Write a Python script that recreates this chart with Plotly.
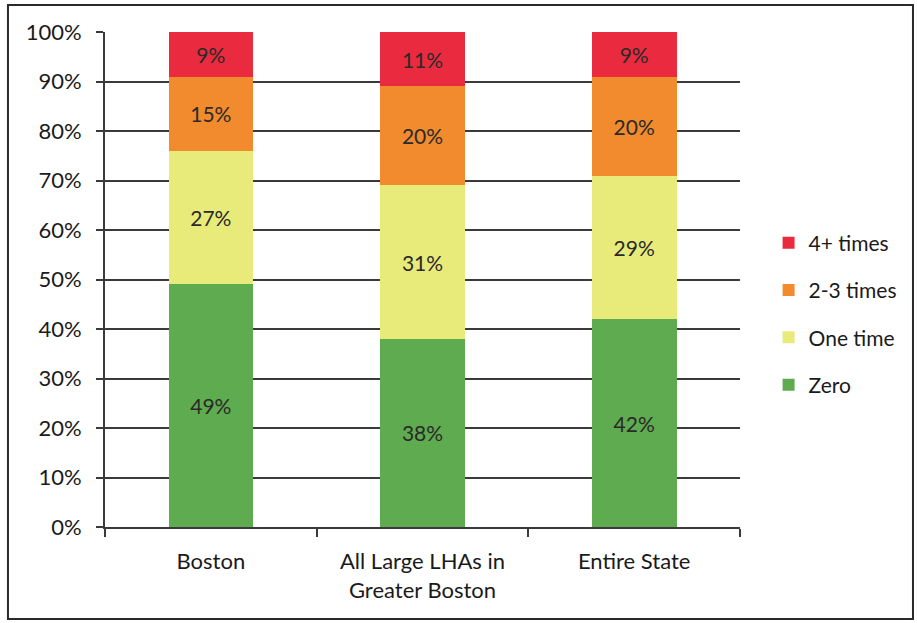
import plotly.graph_objects as go

categories = ["Boston", "All Large LHAs in<br>Greater Boston", "Entire State"]
series_names = ["Zero", "One time", "2-3 times", "4+ times"]
zero = [49, 38, 42]
one_time = [27, 31, 29]
two_three = [15, 20, 20]
four_plus = [9, 11, 9]
colors = ["#5FAB4F", "#E8EB7A", "#F18B2E", "#EA2A3E"]

FONT = "Lato"
fig = go.Figure()
for i, (name, vals) in enumerate(zip(series_names, [zero, one_time, two_three, four_plus])):
    fig.add_trace(go.Bar(
        x=categories, y=vals, name=name, legendgroup=name,
        legendrank=1000 - i,
        marker=dict(color=colors[i], line=dict(width=0)),
        width=0.4,
        text=[f"{v}%" for v in vals], textposition="inside",
        insidetextanchor="middle", textangle=0,
        textfont=dict(family=FONT, size=21, color="#2a2a2a"),
    ))

fig.update_layout(
    barmode="stack",
    width=917, height=623,
    margin=dict(l=105, r=177, t=32, b=96),
    paper_bgcolor="white", plot_bgcolor="white",
    font=dict(family=FONT, size=22, color="#1a1a1a"),
    showlegend=True,
    legend=dict(x=1.045, y=0.615, xanchor="left", yanchor="top",
                traceorder="grouped", tracegroupgap=17,
                font=dict(family=FONT, size=21, color="#1a1a1a"),
                itemwidth=30),
    uniformtext=dict(minsize=10, mode="show"),
)
fig.update_yaxes(range=[0, 100], tickvals=list(range(0, 101, 10)),
                 ticktext=[f"{v}%" for v in range(0, 101, 10)],
                 showgrid=True, gridcolor="#3a3a3a", gridwidth=2,
                 showline=True, linecolor="#3a3a3a", linewidth=2,
                 ticks="outside", ticklen=7, tickwidth=2, tickcolor="#3a3a3a",
                 zeroline=False, ticklabelstandoff=10)
fig.update_xaxes(showline=True, linecolor="#3a3a3a", linewidth=2,
                 ticks="outside", tickson="boundaries", ticklen=8, tickwidth=2,
                 tickcolor="#3a3a3a", range=[-0.5, 2.5], ticklabelstandoff=14)
fig.add_shape(type="rect", xref="paper", yref="paper",
              x0=-0.1528, x1=1.2724, y0=-0.1859, y1=1.0545,
              line=dict(color="#2a2a2a", width=2), fillcolor="rgba(0,0,0,0)", layer="below")
fig.write_html("out.html")
